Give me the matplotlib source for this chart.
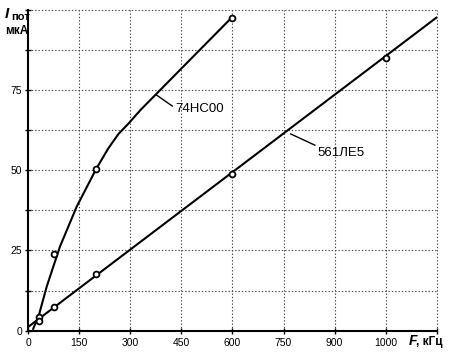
import matplotlib
matplotlib.use("Agg")
import matplotlib.pyplot as plt

plt.rcParams['font.family'] = ['Liberation Sans Narrow', 'Liberation Sans', 'DejaVu Sans']

# 74HC00 measured points and drawn curve
hc_F = [31, 76, 199, 600]
hc_I = [4.2, 23.9, 50.3, 97.5]
hc_curve_F = [14, 31, 54, 93, 142, 199, 235, 265, 295, 330, 600]
hc_curve_I = [0.5, 4.8, 13.7, 26.2, 38.6, 50.3, 56.8, 61.3, 64.6, 68.8, 97.8]

# 561ЛЕ5 measured points and drawn line
le_F = [31, 76, 199, 600, 1050]
le_I = [2.9, 7.5, 17.6, 48.8, 85.0]
le_line_F = [0, 1200]
le_line_I = [1.2, 97.6]

x_ticks = [0, 150, 300, 450, 600, 750, 900, 1050, 1200]
x_labels = ['0', '150', '300', '450', '600', '750', '900', '1000', '']
y_ticks = [0, 12.5, 25, 37.5, 50, 62.5, 75, 87.5, 100]
y_labels = ['0', '', '25', '', '50', '', '75', '', '']

SANS = ['Liberation Sans', 'DejaVu Sans']

fig = plt.figure(figsize=(4.5, 3.53), dpi=100)
ax = fig.add_axes([0.0629, 0.0632, 0.9075, 0.9093])
ax.set_xlim(0, 1200)
ax.set_ylim(0, 100)

grid_kw = dict(color='#444444', lw=0.8, ls=(0, (1.2, 1.8)), zorder=1, clip_on=False)
for xv in x_ticks[1:]:
    ax.axvline(xv, **grid_kw)
for yv in y_ticks[1:]:
    ax.axhline(yv, **grid_kw)

ax.plot(hc_curve_F, hc_curve_I, color='black', lw=1.5, zorder=3, solid_capstyle='round')
ax.plot(le_line_F, le_line_I, color='black', lw=1.5, zorder=3, solid_capstyle='round')
mk = dict(ls='none', marker='o', ms=4.2, mfc='white', mec='black', mew=1.3, zorder=4)
ax.plot(hc_F, hc_I, **mk)
ax.plot(le_F, le_I, **mk)

# labels with leader lines
ax.plot([377, 423], [73.4, 70.0], color='black', lw=1.0, zorder=3)
ax.text(432, 69, '74HC00', fontsize=9.5, family=SANS, va='center', ha='left')
ax.plot([771, 842], [61.3, 57.8], color='black', lw=1.0, zorder=3)
ax.text(850, 55.4, '561ЛЕ5', fontsize=9.5, family=SANS, va='center', ha='left')

for s in ['top', 'right']:
    ax.spines[s].set_visible(False)
for s in ['left', 'bottom']:
    ax.spines[s].set_linewidth(1.5)
    ax.spines[s].set_color('black')

ax.set_xticks(x_ticks)
ax.set_xticklabels(x_labels)
ax.set_yticks(y_ticks)
ax.set_yticklabels(y_labels)
ax.tick_params(axis='both', direction='inout', length=5, width=1.0, labelsize=7.5)
ax.tick_params(axis='x', pad=3)
ax.tick_params(axis='y', pad=2)

# axis titles
fig.text(0.011, 0.948, 'I', fontsize=11, fontstyle='italic', fontweight='bold',
         family=SANS, ha='left', va='baseline')
fig.text(0.026, 0.9433, 'пот', fontsize=8, fontweight='bold', family=SANS,
         ha='left', va='baseline')
fig.text(0.012, 0.903, 'мкА', fontsize=8.5, fontweight='bold', family=SANS,
         ha='left', va='baseline')
fig.text(0.909, 0.022, 'F', fontsize=10, fontstyle='italic', fontweight='bold',
         family=SANS, ha='left', va='baseline')
fig.text(0.925, 0.022, ', кГц', fontsize=8.5, fontweight='bold', family=SANS,
         ha='left', va='baseline')

fig.savefig('out.png', dpi=100)
